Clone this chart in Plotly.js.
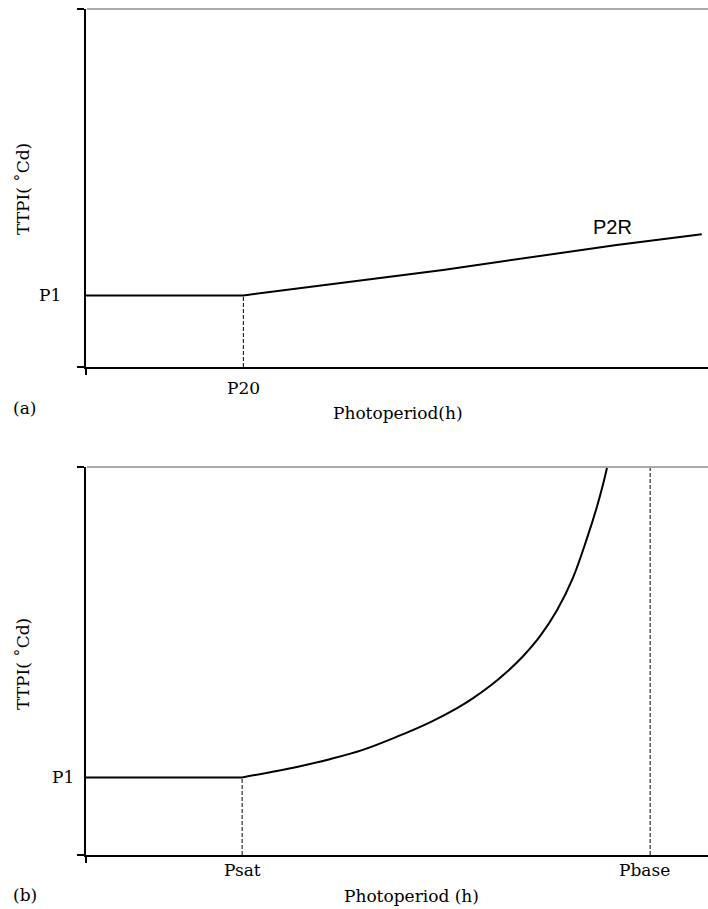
<!DOCTYPE html>
<html>
<head>
<meta charset="utf-8">
<script src="https://cdn.plot.ly/plotly-3.0.1.min.js"></script>
<style>html,body{margin:0;padding:0;background:#fff;}#chart{width:708px;height:909px;}</style>
</head>
<body>
<div id="chart"></div>
<script>
// ---- data (arbitrary units) ----
const P1 = 20;
// panel (a)
const aLineX = [0, 25.3, 57.4, 74.6, 85.3, 99.0];
const aLineY = [20, 20, 27.1, 31.3, 34.1, 37.1];
const P20 = 25.3;
// panel (b)
const bFlatX = [0, 25.1];
const bFlatY = [20, 20];
const bCurveX = [25.1, 33.9, 39.2, 44.5, 50.0, 55.3, 59.6, 62.3, 65.0, 67.6, 70.3, 73.0, 75.7, 78.3, 80.5, 82.1, 83.2, 84.0];
const bCurveY = [20, 22.7, 24.7, 27.1, 30.5, 34.2, 37.8, 40.5, 43.6, 47.1, 51.3, 56.4, 63.0, 71.5, 81.4, 89.5, 96.0, 101.5];
const Psat = 25.1;
const Pbase = 90.7;
const yTop = 100;

const W = 708, H = 909;
const px = v => v / W;
const py = v => 1 - v / H;

const solid = {color: '#000', width: 2};
const dashed = {color: '#000', width: 1, dash: '4px,2px'};

const traces = [
  {x: aLineX, y: aLineY, mode: 'lines', line: solid, xaxis: 'x', yaxis: 'y'},
  {x: [P20, P20], y: [0, P1], mode: 'lines', line: dashed, xaxis: 'x', yaxis: 'y'},
  {x: bFlatX, y: bFlatY, mode: 'lines', line: solid, xaxis: 'x2', yaxis: 'y2'},
  {x: bCurveX, y: bCurveY, mode: 'lines', line: Object.assign({shape: 'spline', smoothing: 1}, solid), xaxis: 'x2', yaxis: 'y2'},
  {x: [Psat, Psat], y: [0, P1], mode: 'lines', line: dashed, xaxis: 'x2', yaxis: 'y2'},
  {x: [Pbase, Pbase], y: [0, yTop], mode: 'lines', line: dashed, xaxis: 'x2', yaxis: 'y2'}
];

const serif = {family: 'DejaVu Serif', size: 17, color: '#000'};
const sans = {family: 'Liberation Sans', size: 20, color: '#000'};

function xAx(anchor) {
  return {anchor: anchor, domain: [px(86), 1], range: [0, 100], showline: true, linecolor: '#000', linewidth: 2,
    ticks: 'outside', tickvals: [0], ticklen: 6, tickwidth: 2, tickcolor: '#000', showticklabels: false,
    showgrid: false, zeroline: false, fixedrange: true};
}
function yAx(anchor, top, bottom) {
  return {anchor: anchor, domain: [py(bottom), py(top)], range: [0, yTop], showline: true, linecolor: '#000', linewidth: 2,
    ticks: 'outside', tickvals: [0, yTop], ticklen: 7, tickwidth: 2, tickcolor: '#000', showticklabels: false,
    showgrid: false, zeroline: false, fixedrange: true};
}

function ann(text, x, y, font, xref, yref) {
  return {text: text, x: x, y: y, xref: xref || 'paper', yref: yref || 'paper', showarrow: false,
    font: font || serif, xanchor: 'center', yanchor: 'middle'};
}

const layout = {
  width: W, height: H,
  margin: {l: 0, r: 0, t: 0, b: 0},
  paper_bgcolor: '#fff', plot_bgcolor: '#fff',
  showlegend: false,
  font: serif,
  xaxis: xAx('y'),
  yaxis: yAx('x', 9, 367),
  xaxis2: xAx('y2'),
  yaxis2: yAx('x2', 467, 855),
  shapes: [
    {type: 'line', xref: 'paper', yref: 'paper', x0: px(87), x1: 1, y0: py(9), y1: py(9), line: {color: '#aaaaaa', width: 2}},
    {type: 'line', xref: 'paper', yref: 'paper', x0: px(87), x1: 1, y0: py(467), y1: py(467), line: {color: '#aaaaaa', width: 2}}
  ],
  annotations: [
    // panel (a)
    Object.assign(ann('TTPI( ˚Cd)', px(23), py(189)), {textangle: -90}),
    ann('P1', px(50), P1, serif, 'paper', 'y'),
    ann('P20', P20, py(388), serif, 'x', 'paper'),
    ann('P2R', px(612), py(227), sans),
    ann('(a)', px(24), py(408)),
    ann('Photoperiod(h)', px(398), py(413)),
    // panel (b)
    Object.assign(ann('TTPI( ˚Cd)', px(23), py(664)), {textangle: -90}),
    ann('P1', px(63), P1, serif, 'paper', 'y2'),
    ann('Psat', Psat, py(870), serif, 'x2', 'paper'),
    ann('Pbase', px(644), py(870)),
    ann('(b)', px(25), py(895)),
    ann('Photoperiod (h)', px(411), py(896))
  ]
};

Plotly.newPlot('chart', traces, layout, {displayModeBar: false, staticPlot: true});
</script>
</body>
</html>
